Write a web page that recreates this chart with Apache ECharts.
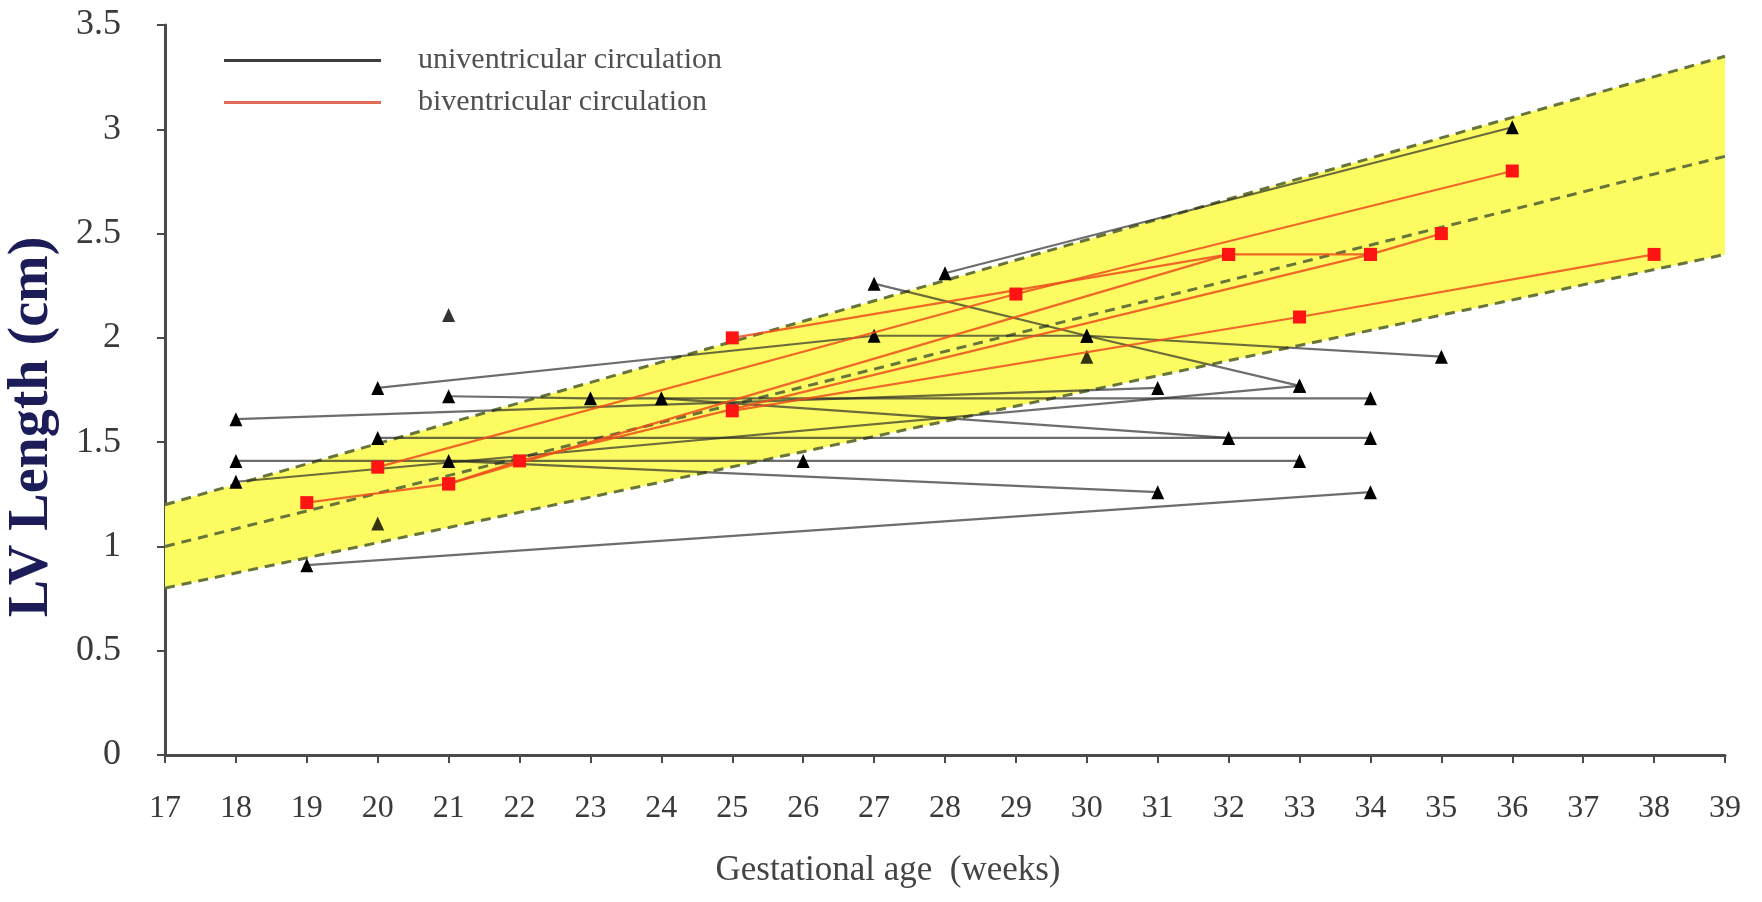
<!DOCTYPE html>
<html>
<head>
<meta charset="utf-8">
<script src="https://cdn.jsdelivr.net/npm/echarts@6/dist/echarts.min.js"></script>
<style>
  html, body { margin: 0; padding: 0; background: #ffffff; }
  #chart { width: 1762px; height: 902px; }
</style>
</head>
<body>
<div id="chart"></div>
<script>
// ---- reference band (normal range) ----
const bandWeeks = [17, 39];
const bandLower = [0.8, 2.4];
const bandMean  = [1.0, 2.87];
const bandUpper = [1.2, 3.35];

// ---- univentricular circulation: each patient's serial measurements [week, cm] ----
const uniTracks = [
  [[18, 1.61], [31, 1.76]],
  [[18, 1.41], [26, 1.41], [33, 1.41]],
  [[18, 1.31], [33, 1.77]],
  [[19, 0.91], [34, 1.26]],
  [[20, 1.76], [27, 2.01], [30, 2.01], [35, 1.91]],
  [[20, 1.52], [34, 1.52]],
  [[21, 1.72], [23, 1.71], [34, 1.71]],
  [[24, 1.71], [32, 1.52]],
  [[21, 1.41], [31, 1.26]],
  [[27, 2.26], [30, 2.01], [33, 1.77]],
  [[28, 2.31], [36, 3.01]]
];
const uniSingles = [[20, 1.11], [21, 2.11], [30, 1.91]];

// ---- biventricular circulation ----
const biTracks = [
  [[19, 1.21], [21, 1.30], [22, 1.41], [34, 2.40], [35, 2.50]],
  [[20, 1.38], [29, 2.21], [36, 2.80]],
  [[25, 2.00], [32, 2.40], [34, 2.40]],
  [[25, 1.65], [33, 2.10], [38, 2.40]],
  [[21, 1.30], [32, 2.40]]
];

// ---- axes ----
const xTickMin = 17, xTickMax = 39, xTickStep = 1;
const yTickMin = 0, yTickMax = 3.5, yTickStep = 0.5;

const UNI = 'univentricular circulation';
const BI = 'biventricular circulation';
const SERIF = '"Liberation Serif", "DejaVu Serif", serif';

const chart = echarts.init(document.getElementById('chart'), null, { renderer: 'canvas' });

const series = [];

// yellow band
series.push({
  type: 'custom',
  silent: true,
  z: 1,
  data: [0],
  renderItem: function (params, api) {
    const pts = [];
    for (let i = 0; i < bandWeeks.length; i++) pts.push(api.coord([bandWeeks[i], bandUpper[i]]));
    for (let i = bandWeeks.length - 1; i >= 0; i--) pts.push(api.coord([bandWeeks[i], bandLower[i]]));
    return { type: 'polygon', shape: { points: pts }, style: { fill: '#fcfc62' } };
  }
});

// dashed boundary lines
[bandLower, bandMean, bandUpper].forEach(function (arr) {
  series.push({
    type: 'line',
    silent: true,
    z: 2,
    symbol: 'none',
    data: bandWeeks.map(function (w, i) { return [w, arr[i]]; }),
    lineStyle: { color: '#67743a', width: 3, type: [10, 7] }
  });
});

uniTracks.forEach(function (t) {
  series.push({
    name: UNI,
    type: 'line',
    z: 3,
    data: t,
    symbol: 'triangle',
    symbolSize: [13, 14],
    showSymbol: true,
    itemStyle: { color: '#000000' },
    lineStyle: { color: 'rgba(40,40,40,0.68)', width: 2.2 }
  });
});
series.push({
  name: UNI,
  type: 'scatter',
  z: 3,
  data: uniSingles,
  symbol: 'triangle',
  symbolSize: [13, 14],
  itemStyle: { color: '#000000' }
});

biTracks.forEach(function (t) {
  series.push({
    name: BI,
    type: 'line',
    z: 4,
    data: t,
    symbol: 'rect',
    symbolSize: 13,
    showSymbol: true,
    itemStyle: { color: '#ff1414' },
    lineStyle: { color: 'rgba(236,78,28,0.85)', width: 2.2 }
  });
});

const option = {
  animation: false,
  backgroundColor: '#ffffff',
  grid: { left: 165, right: 37, top: 25, bottom: 147, containLabel: false, outerBoundsMode: 'none' },
  legend: {
    orient: 'vertical',
    left: 219,
    top: 40,
    itemWidth: 157,
    itemHeight: 3,
    itemGap: 11,
    selectedMode: false,
    data: [
      { name: UNI, icon: 'rect', itemStyle: { color: '#3e3e3e' } },
      { name: BI, icon: 'rect', itemStyle: { color: '#e06c58' } }
    ],
    textStyle: { fontFamily: SERIF, fontSize: 30, color: '#505050', lineHeight: 31, padding: [0, 0, 0, 32] }
  },
  xAxis: {
    type: 'value',
    min: xTickMin,
    max: xTickMax,
    interval: xTickStep,
    name: 'Gestational age  (weeks)',
    nameLocation: 'middle',
    nameGap: 98,
    nameTextStyle: { fontFamily: SERIF, fontSize: 35, color: '#444444', padding: [0, 114, 0, 0] },
    axisLine: { show: true, onZero: false, lineStyle: { color: '#4a4a4a', width: 3 } },
    axisTick: { show: true, inside: false, length: 8, lineStyle: { color: '#4a4a4a', width: 2 } },
    axisLabel: { margin: 38, fontFamily: SERIF, fontSize: 32, color: '#3a3a3a' },
    splitLine: { show: false }
  },
  yAxis: {
    type: 'value',
    min: yTickMin,
    max: yTickMax,
    interval: yTickStep,
    name: 'LV Length (cm)',
    nameLocation: 'middle',
    nameRotate: 90,
    nameGap: 104,
    nameTextStyle: { fontFamily: SERIF, fontSize: 56, fontWeight: 'bold', color: '#1c1c58', padding: [0, 74, 0, 0] },
    axisLine: { show: true, onZero: false, lineStyle: { color: '#4a4a4a', width: 3 } },
    axisTick: { show: true, inside: false, length: 8, lineStyle: { color: '#4a4a4a', width: 2 } },
    axisLabel: { margin: 44, fontFamily: SERIF, fontSize: 36, color: '#3a3a3a' },
    splitLine: { show: false }
  },
  series: series
};

chart.setOption(option);
</script>
</body>
</html>
